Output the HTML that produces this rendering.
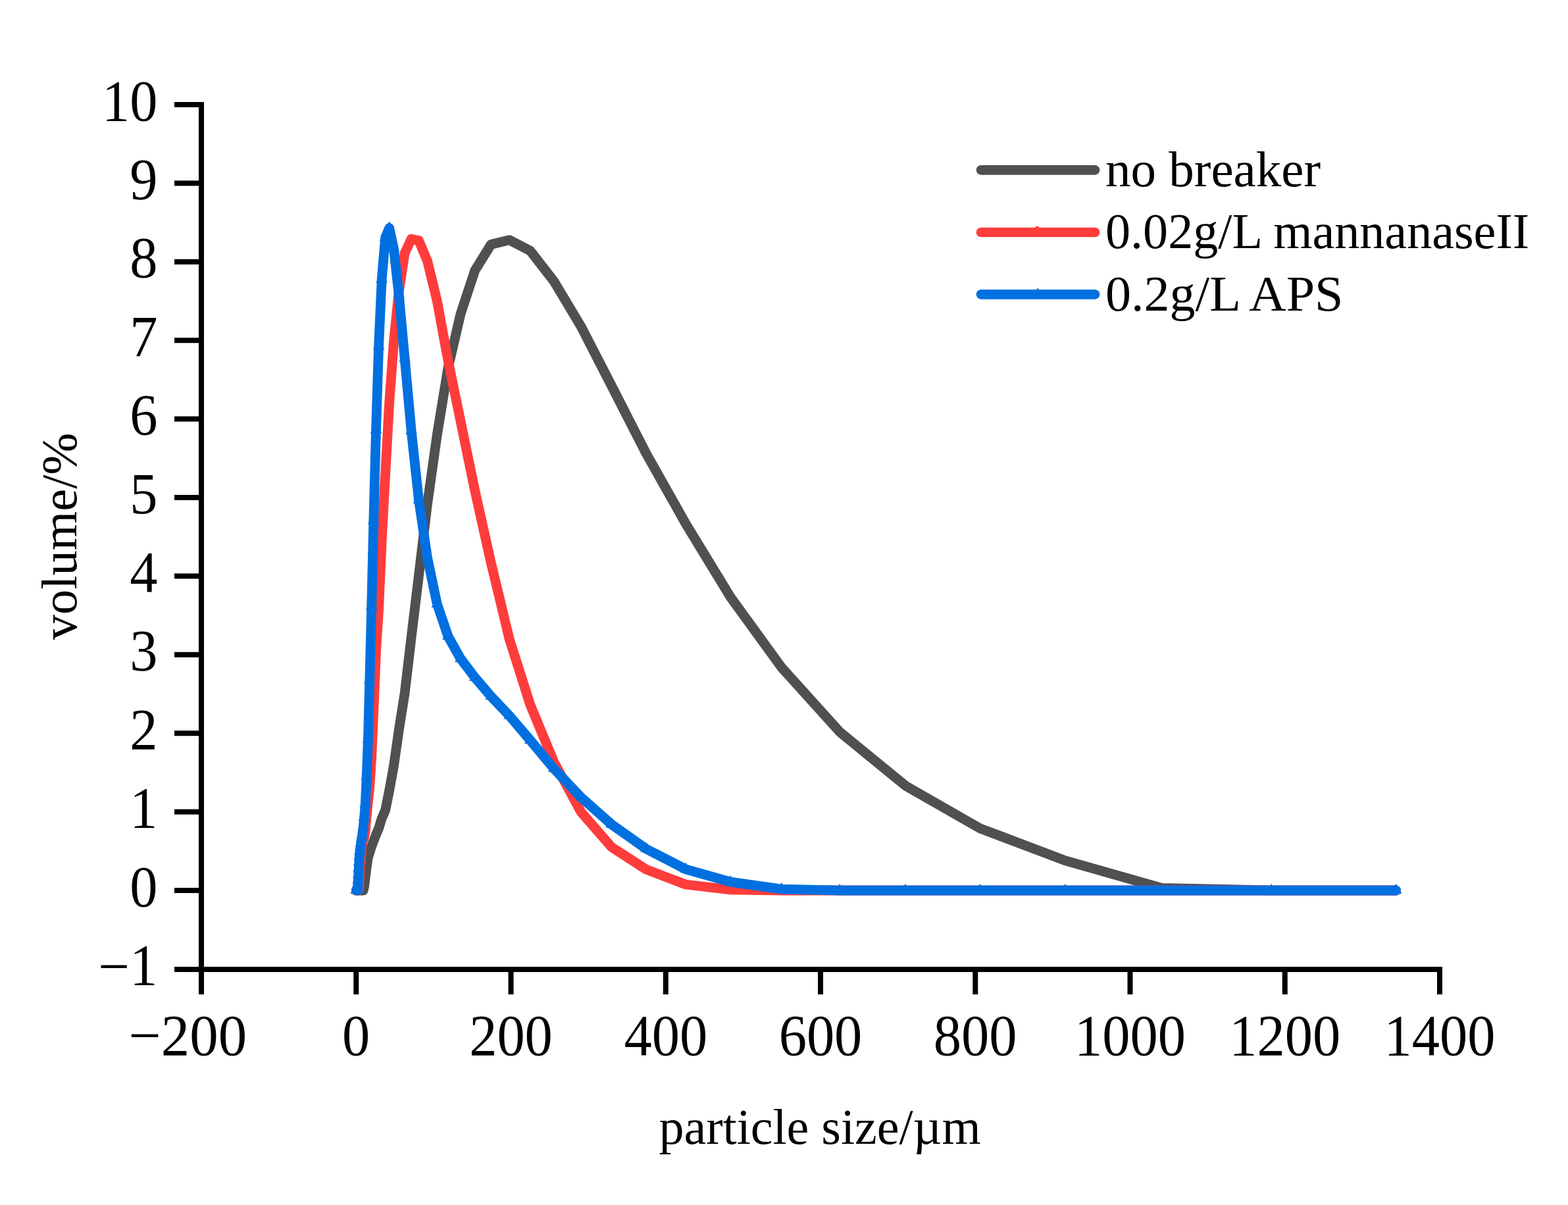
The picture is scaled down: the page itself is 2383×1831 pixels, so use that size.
<!DOCTYPE html>
<html><head><meta charset="utf-8"><style>html,body{margin:0;padding:0;background:#fff;width:2383px;height:1831px;overflow:hidden}svg{display:block}</style></head>
<body>
<svg width="2383" height="1831" viewBox="0 0 2383 1831">
<rect width="2383" height="1831" fill="#fff"/>
<polyline points="541.3,1353.0 541.3,1353.0 541.3,1353.0 541.3,1353.0 541.3,1353.0 541.3,1353.0 541.3,1353.0 541.3,1353.0 541.3,1353.0 541.3,1353.0 541.3,1353.0 541.3,1353.0 541.3,1353.0 541.3,1353.0 541.3,1353.0 541.3,1353.0 541.3,1353.0 541.4,1353.0 541.4,1353.0 541.4,1353.0 541.4,1353.0 541.4,1353.0 541.5,1353.0 541.5,1353.0 541.5,1353.0 541.6,1353.0 541.6,1353.0 541.6,1353.0 541.7,1353.0 541.8,1353.0 541.8,1353.0 541.9,1353.0 542.0,1353.0 542.1,1353.0 542.2,1353.0 542.3,1353.0 542.5,1353.0 542.7,1353.0 542.9,1353.0 543.1,1353.0 543.3,1353.0 543.6,1353.0 543.9,1353.0 544.3,1353.0 544.7,1353.0 545.2,1353.0 545.7,1353.0 546.3,1353.0 547.0,1353.0 547.8,1353.0 548.7,1353.0 549.7,1353.0 550.8,1353.0 552.1,1353.0 553.6,1347.0 555.3,1332.7 557.2,1317.2 559.4,1302.9 561.8,1295.0 564.7,1286.1 567.8,1277.8 571.5,1268.2 575.6,1258.7 580.2,1243.6 585.6,1231.2 591.6,1201.4 598.4,1164.0 606.2,1109.4 615.1,1053.3 625.1,968.5 636.5,874.2 649.5,765.6 664.3,660.5 681.0,559.0 700.0,477.0 721.7,411.1 746.2,371.5 774.1,364.6 805.9,381.1 841.9,427.5 882.8,495.7 929.3,586.0 982.2,689.3 1042.2,795.8 1110.4,907.6 1187.9,1014.3 1276.0,1111.9 1376.0,1193.8 1489.7,1258.8 1618.8,1307.6 1765.5,1349.4 1932.2,1353.0 2121.6,1353.0" fill="none" stroke="#505050" stroke-width="14.8" stroke-linejoin="round" stroke-linecap="round"/>
<polyline points="541.3,1353.0 541.3,1353.0 541.3,1353.0 541.3,1353.0 541.3,1353.0 541.3,1353.0 541.3,1353.0 541.3,1353.0 541.3,1353.0 541.3,1353.0 541.3,1353.0 541.3,1353.0 541.3,1353.0 541.3,1353.0 541.3,1353.0 541.3,1353.0 541.3,1353.0 541.4,1353.0 541.4,1353.0 541.4,1353.0 541.4,1353.0 541.4,1353.0 541.5,1353.0 541.5,1353.0 541.5,1353.0 541.6,1353.0 541.6,1353.0 541.6,1353.0 541.7,1353.0 541.8,1353.0 541.8,1353.0 541.9,1353.0 542.0,1353.0 542.1,1353.0 542.2,1353.0 542.3,1353.0 542.5,1353.0 542.7,1353.0 542.9,1353.0 543.1,1353.0 543.3,1353.0 543.6,1353.0 543.9,1353.0 544.3,1353.0 544.7,1353.0 545.2,1353.0 545.7,1349.4 546.3,1331.5 547.0,1320.8 547.8,1310.0 548.7,1300.5 549.7,1288.5 550.8,1280.2 552.1,1276.6 553.6,1271.8 555.3,1262.3 557.2,1239.6 559.4,1218.1 561.8,1195.4 564.7,1150.0 567.8,1079.6 571.5,990.0 575.6,925.7 580.2,821.2 585.6,721.4 591.6,612.7 598.4,519.6 606.2,443.2 615.1,384.7 625.1,363.2 636.5,365.6 649.5,396.6 664.3,457.5 681.0,548.2 700.0,640.2 721.7,745.3 746.2,855.1 774.1,970.9 805.9,1071.2 841.9,1157.9 882.8,1233.6 929.3,1287.0 982.2,1321.2 1042.2,1344.0 1110.4,1351.8 1187.9,1353.0 1276.0,1353.0 1376.0,1353.0 1489.7,1353.0 1618.8,1353.0 1765.5,1353.0 1932.2,1353.0 2121.6,1353.0" fill="none" stroke="#FF3C3C" stroke-width="14.8" stroke-linejoin="round" stroke-linecap="round"/>
<polyline points="541.3,1353.0 541.3,1353.0 541.3,1353.0 541.3,1353.0 541.3,1353.0 541.3,1353.0 541.3,1353.0 541.3,1353.0 541.3,1353.0 541.3,1353.0 541.3,1353.0 541.3,1353.0 541.3,1353.0 541.3,1353.0 541.3,1353.0 541.3,1353.0 541.3,1353.0 541.4,1353.0 541.4,1353.0 541.4,1353.0 541.4,1353.0 541.4,1353.0 541.5,1353.0 541.5,1353.0 541.5,1353.0 541.6,1353.0 541.6,1353.0 541.6,1353.0 541.7,1353.0 541.8,1353.0 541.8,1353.0 541.9,1353.0 542.0,1353.0 542.1,1353.0 542.2,1353.0 542.3,1353.0 542.5,1353.0 542.7,1353.0 542.9,1353.0 543.1,1353.0 543.3,1350.6 543.6,1348.2 543.9,1343.4 544.3,1337.5 544.7,1329.1 545.2,1319.6 545.7,1310.0 546.3,1301.7 547.0,1293.3 547.8,1287.3 548.7,1281.4 549.7,1274.2 550.8,1267.0 552.1,1257.5 553.6,1242.0 555.3,1221.7 557.2,1179.9 559.4,1123.6 561.8,1034.3 564.7,921.7 567.8,791.3 571.5,653.2 575.6,525.6 580.2,424.1 585.6,360.8 591.6,346.5 598.4,377.5 606.2,447.9 615.1,544.7 625.1,654.5 636.5,759.9 649.5,847.6 664.3,917.9 681.0,967.0 700.0,1000.8 721.7,1029.4 746.2,1058.1 774.1,1087.5 805.9,1124.9 841.9,1168.0 882.8,1211.3 929.3,1252.6 982.2,1290.0 1042.2,1320.8 1110.4,1340.2 1187.9,1351.1 1276.0,1353.0 1376.0,1353.0 1489.7,1353.0 1618.8,1353.0 1765.5,1353.0 1932.2,1353.0 2121.6,1353.0" fill="none" stroke="#0070E0" stroke-width="14.8" stroke-linejoin="round" stroke-linecap="round"/>
<path d="M541.3 1342.7l8.9 15.4h-17.8zM541.4 1342.7l8.9 15.4h-17.8zM541.5 1342.7l8.9 15.4h-17.8zM541.6 1342.7l8.9 15.4h-17.8zM541.7 1342.7l8.9 15.4h-17.8zM541.8 1342.7l8.9 15.4h-17.8zM541.9 1342.7l8.9 15.4h-17.8zM542.0 1342.7l8.9 15.4h-17.8zM542.1 1342.7l8.9 15.4h-17.8zM542.2 1342.7l8.9 15.4h-17.8zM542.3 1342.7l8.9 15.4h-17.8zM542.5 1342.7l8.9 15.4h-17.8zM542.7 1342.7l8.9 15.4h-17.8zM542.9 1342.7l8.9 15.4h-17.8zM543.1 1342.7l8.9 15.4h-17.8zM543.3 1340.3l8.9 15.4h-17.8zM543.6 1337.9l8.9 15.4h-17.8zM543.9 1333.1l8.9 15.4h-17.8zM544.3 1327.2l8.9 15.4h-17.8zM544.7 1318.8l8.9 15.4h-17.8zM545.2 1309.3l8.9 15.4h-17.8zM545.7 1299.7l8.9 15.4h-17.8zM546.3 1291.4l8.9 15.4h-17.8zM547.0 1283.0l8.9 15.4h-17.8zM547.8 1277.0l8.9 15.4h-17.8zM548.7 1271.1l8.9 15.4h-17.8zM549.7 1263.9l8.9 15.4h-17.8zM550.8 1256.7l8.9 15.4h-17.8zM552.1 1247.2l8.9 15.4h-17.8zM553.6 1231.7l8.9 15.4h-17.8zM555.3 1211.4l8.9 15.4h-17.8zM557.2 1169.6l8.9 15.4h-17.8zM559.4 1113.3l8.9 15.4h-17.8zM561.8 1024.0l8.9 15.4h-17.8zM564.7 911.4l8.9 15.4h-17.8zM567.8 781.0l8.9 15.4h-17.8zM571.5 642.9l8.9 15.4h-17.8zM575.6 515.3l8.9 15.4h-17.8zM580.2 413.8l8.9 15.4h-17.8zM585.6 350.5l8.9 15.4h-17.8zM591.6 336.2l8.9 15.4h-17.8zM598.4 367.2l8.9 15.4h-17.8zM606.2 437.6l8.9 15.4h-17.8zM615.1 534.4l8.9 15.4h-17.8zM625.1 644.2l8.9 15.4h-17.8zM636.5 749.6l8.9 15.4h-17.8zM649.5 837.3l8.9 15.4h-17.8zM664.3 907.6l8.9 15.4h-17.8zM681.0 956.7l8.9 15.4h-17.8zM700.0 990.5l8.9 15.4h-17.8zM721.7 1019.1l8.9 15.4h-17.8zM746.2 1047.8l8.9 15.4h-17.8zM774.1 1077.2l8.9 15.4h-17.8zM805.9 1114.6l8.9 15.4h-17.8zM841.9 1157.7l8.9 15.4h-17.8zM882.8 1201.0l8.9 15.4h-17.8zM929.3 1242.3l8.9 15.4h-17.8zM982.2 1279.7l8.9 15.4h-17.8zM1042.2 1310.5l8.9 15.4h-17.8zM1110.4 1329.9l8.9 15.4h-17.8zM1187.9 1340.8l8.9 15.4h-17.8zM1276.0 1342.7l8.9 15.4h-17.8zM1376.0 1342.7l8.9 15.4h-17.8zM1489.7 1342.7l8.9 15.4h-17.8zM1618.8 1342.7l8.9 15.4h-17.8zM1765.5 1342.7l8.9 15.4h-17.8zM1932.2 1342.7l8.9 15.4h-17.8zM2121.6 1342.7l8.9 15.4h-17.8z" fill="#0070E0"/>
<g fill="#000">
<rect x="302" y="155" width="8" height="1322"/>
<rect x="265" y="1469" width="1927" height="8"/>
<rect x="265" y="1349.0" width="41" height="8"/>
<rect x="265" y="1229.6" width="41" height="8"/>
<rect x="265" y="1110.2" width="41" height="8"/>
<rect x="265" y="990.8" width="41" height="8"/>
<rect x="265" y="871.4" width="41" height="8"/>
<rect x="265" y="752.0" width="41" height="8"/>
<rect x="265" y="632.6" width="41" height="8"/>
<rect x="265" y="513.2" width="41" height="8"/>
<rect x="265" y="393.8" width="41" height="8"/>
<rect x="265" y="274.4" width="41" height="8"/>
<rect x="265" y="155.0" width="41" height="8"/>
<rect x="302.00" y="1473" width="8" height="38"/>
<rect x="537.25" y="1473" width="8" height="38"/>
<rect x="772.50" y="1473" width="8" height="38"/>
<rect x="1007.75" y="1473" width="8" height="38"/>
<rect x="1243.00" y="1473" width="8" height="38"/>
<rect x="1478.25" y="1473" width="8" height="38"/>
<rect x="1713.50" y="1473" width="8" height="38"/>
<rect x="1948.75" y="1473" width="8" height="38"/>
<rect x="2184.00" y="1473" width="8" height="38"/>
</g>
<g font-family="Liberation Serif, serif" font-size="88" fill="#000">
<text transform="translate(239.5,1495.9) scale(0.96,1)" text-anchor="end"><tspan dy="2.5">&#8722;</tspan><tspan dy="-2.5">1</tspan></text>
<text transform="translate(239.5,1376.5) scale(0.96,1)" text-anchor="end">0</text>
<text transform="translate(239.5,1257.1) scale(0.96,1)" text-anchor="end">1</text>
<text transform="translate(239.5,1137.7) scale(0.96,1)" text-anchor="end">2</text>
<text transform="translate(239.5,1018.3) scale(0.96,1)" text-anchor="end">3</text>
<text transform="translate(239.5,898.9) scale(0.96,1)" text-anchor="end">4</text>
<text transform="translate(239.5,779.5) scale(0.96,1)" text-anchor="end">5</text>
<text transform="translate(239.5,660.1) scale(0.96,1)" text-anchor="end">6</text>
<text transform="translate(239.5,540.7) scale(0.96,1)" text-anchor="end">7</text>
<text transform="translate(239.5,421.3) scale(0.96,1)" text-anchor="end">8</text>
<text transform="translate(239.5,301.9) scale(0.96,1)" text-anchor="end">9</text>
<text transform="translate(239.5,182.5) scale(0.96,1)" text-anchor="end">10</text>
<text transform="translate(285.5,1603) scale(0.988,1)" text-anchor="middle">&#8722;200</text>
<text transform="translate(541.2,1603) scale(0.96,1)" text-anchor="middle">0</text>
<text transform="translate(776.5,1603) scale(0.96,1)" text-anchor="middle">200</text>
<text transform="translate(1011.8,1603) scale(0.96,1)" text-anchor="middle">400</text>
<text transform="translate(1247.0,1603) scale(0.96,1)" text-anchor="middle">600</text>
<text transform="translate(1482.2,1603) scale(0.96,1)" text-anchor="middle">800</text>
<text transform="translate(1717.5,1603) scale(0.96,1)" text-anchor="middle">1000</text>
<text transform="translate(1952.8,1603) scale(0.96,1)" text-anchor="middle">1200</text>
<text transform="translate(2188.0,1603) scale(0.96,1)" text-anchor="middle">1400</text>
</g>
<text font-family="Liberation Serif, serif" font-size="76" transform="translate(1246,1737.7)" text-anchor="middle">particle size/µm</text>
<text font-family="Liberation Serif, serif" font-size="77" transform="translate(116.3,815) rotate(-90) scale(0.994,1)" text-anchor="middle">volume/%</text>
<line x1="1491" y1="258.4" x2="1664" y2="258.4" stroke="#505050" stroke-width="14.7" stroke-linecap="round"/>
<text font-family="Liberation Serif, serif" font-size="77" transform="translate(1680,282.9) scale(1.0,1)">no breaker</text>
<line x1="1491" y1="353" x2="1664" y2="353" stroke="#FF3C3C" stroke-width="14.7" stroke-linecap="round"/>
<text font-family="Liberation Serif, serif" font-size="77" transform="translate(1680,376.8) scale(0.989,1)">0.02g/L mannanaseII</text>
<line x1="1491" y1="447.4" x2="1664" y2="447.4" stroke="#0070E0" stroke-width="14.7" stroke-linecap="round"/>
<text font-family="Liberation Serif, serif" font-size="77" transform="translate(1680,471.8) scale(1.014,1)">0.2g/L APS</text>
<rect x="1574" y="344" width="5" height="3" fill="#FF3C3C"/>
<path d="M1577 437.1l8.9 15.4h-17.8z" fill="#0070E0"/>
</svg>
</body></html>
